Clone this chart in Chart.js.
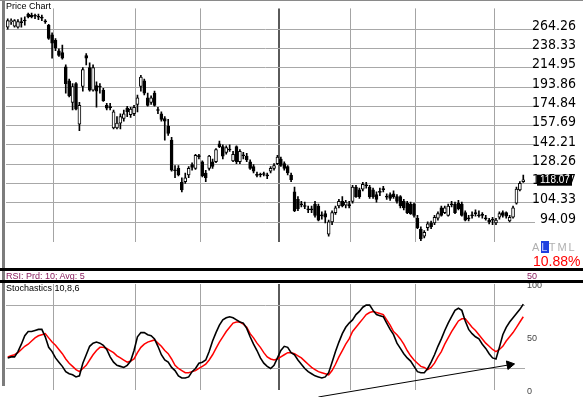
<!DOCTYPE html>
<html>
<head>
<meta charset="utf-8">
<script src="https://cdn.jsdelivr.net/npm/chart.js@4.4.0/dist/chart.umd.min.js"></script>
<style>
  body { margin: 0; width: 583px; height: 397px; overflow: hidden; position: relative; background: #fff; font-family: 'Liberation Sans', Arial, sans-serif; }
  canvas { position: absolute; left: 0; }
  #price { top: 0; }
  #stoch { top: 270px; }
  .txt { position: absolute; white-space: nowrap; z-index: 2; line-height: 1; }
  .bar { position: absolute; z-index: 3; }
</style>
</head>
<body>
<canvas id="price" width="583" height="250"></canvas>
<canvas id="stoch" width="583" height="127"></canvas>

<div class="bar" style="left:2px;top:0;width:3px;height:386px;background:#7c7c7c"></div>
<div class="bar" style="left:0;top:0;width:583px;height:1px;background:#8a8a8a"></div>
<div class="bar" style="left:0;top:268px;width:583px;height:3px;background:#000"></div>
<div class="bar" style="left:0;top:280px;width:583px;height:3px;background:#000"></div>

<div class="txt" style="left:6px;top:2px;font-size:9px;color:#000">Price Chart</div>
<div class="txt" style="left:6px;top:272px;font-size:9px;color:#8a2060">RSI: Prd: 10; Avg: 5</div>
<div class="txt" style="left:527px;top:272px;font-size:9px;color:#8a2060">50</div>
<div class="txt" style="left:6px;top:284px;font-size:9px;color:#000">Stochastics 10,8,6</div>
<div class="txt" style="left:532px;top:242px;font-size:11px;color:#b0b0b0;letter-spacing:2px">A<span style="background:#1f3fe0;color:#c8d0ff">L</span>TML</div>
<div class="txt" style="left:533px;top:254px;font-size:14px;color:#f00">10.88%</div>

<script>
// daily candles
const open = [266.9,275.1,268.3,266.9,273.8,276.5,286.4,285.0,283.5,282.1,
  280.7,275.1,269.7,256.4,248.8,235.4,233.0,216.1,200.4,178.5,
  197.4,159.0,194.4,229.5,215.0,190.5,195.4,194.4,190.5,175.8,
  174.0,155.8,155.8,159.8,163.8,173.2,167.2,168.0,176.7,194.4,
  200.4,183.0,178.5,187.7,171.4,168.0,163.8,157.4,145.9,124.2,
  125.5,116.4,116.9,121.1,128.0,125.5,134.0,130.0,122.4,125.5,
  130.0,130.0,143.0,140.9,136.7,138.8,130.6,140.9,130.0,134.6,
  134.0,130.0,126.7,121.1,121.1,121.7,120.5,123.6,125.5,128.7,
  131.9,128.7,126.7,121.1,110.6,106.3,103.6,102.6,100.5,100.8,
  103.6,102.6,97.6,98.5,88.2,94.2,99.0,102.6,105.2,103.1,
  103.1,105.2,113.5,111.8,112.3,114.6,113.5,111.8,109.0,110.6,
  112.3,107.9,109.0,109.5,107.9,107.9,105.2,104.2,103.6,103.6,
  96.1,90.5,87.3,91.4,93.7,93.7,96.1,101.6,99.0,97.6,
  103.6,103.6,104.2,103.6,99.0,96.1,97.6,98.5,97.6,97.6,
  96.1,95.1,95.1,93.7,96.6,99.0,99.0,94.7,96.6,104.2,
  111.8,116.9];
const high = [279.3,279.3,277.9,277.9,280.7,282.1,287.9,287.9,286.4,286.4,
  285.0,277.9,271.0,259.0,251.3,237.8,242.6,218.3,202.4,197.4,
  198.4,178.5,215.0,231.8,220.5,218.3,199.4,197.4,192.5,177.6,
  177.6,171.4,165.5,168.0,171.4,174.9,174.0,175.8,185.8,206.5,
  202.4,187.7,184.9,189.6,174.0,169.7,165.5,163.0,148.1,127.4,
  127.4,119.3,122.4,126.7,129.3,135.3,135.3,130.6,124.2,134.6,
  131.9,139.5,145.2,142.3,141.6,142.3,137.4,141.6,138.8,136.7,
  136.0,131.3,128.0,123.0,122.4,123.0,122.4,126.7,128.7,134.6,
  133.3,130.0,127.4,122.4,113.5,107.9,105.2,104.7,102.6,102.6,
  105.2,103.6,99.5,100.0,95.1,100.0,102.6,106.3,107.9,105.7,
  105.2,114.6,114.6,112.9,116.4,116.4,114.6,112.9,110.6,112.9,
  114.0,109.5,110.1,111.2,109.0,108.4,106.3,105.2,104.7,104.2,
  97.6,91.8,90.0,94.2,94.7,97.6,99.5,102.6,102.6,103.6,
  105.2,104.7,105.7,104.7,100.0,97.6,99.5,100.5,100.0,99.0,
  97.6,96.1,96.6,96.1,99.5,100.0,99.5,97.6,102.6,113.5,
  116.9,121.1];
const low = [264.3,271.0,266.9,265.6,266.9,269.7,280.7,280.7,279.3,277.9,
  276.5,272.4,250.0,226.1,235.4,228.4,224.9,187.7,183.9,171.4,
  171.4,153.5,189.6,218.3,189.6,189.6,174.0,187.7,179.4,171.4,
  171.4,155.0,155.0,155.0,161.4,165.5,164.7,166.3,169.7,189.6,
  185.8,174.9,176.7,174.9,168.0,161.4,145.9,149.6,123.6,119.3,
  120.5,110.6,115.8,119.3,124.2,124.8,131.9,119.9,116.9,124.2,
  125.5,129.3,140.2,131.9,135.3,137.4,130.0,128.7,128.7,131.9,
  130.0,124.8,122.4,119.9,119.9,120.5,118.7,122.4,124.2,128.0,
  126.7,124.2,121.1,116.9,99.5,100.0,102.1,101.1,99.0,99.0,
  96.6,94.7,95.6,93.7,87.3,92.8,98.1,101.6,102.1,101.6,
  101.6,104.2,107.4,106.8,111.2,112.9,106.8,106.8,104.7,108.4,
  110.6,106.3,105.7,106.8,104.2,101.6,100.5,98.5,98.1,96.6,
  90.9,85.2,86.5,90.0,90.9,92.8,95.1,97.1,98.5,97.1,
  102.1,98.5,100.5,97.1,94.7,94.7,96.1,97.1,96.6,96.1,
  95.1,93.2,92.8,92.8,95.6,96.6,96.1,94.2,96.1,103.6,
  111.2,116.4];
const close = [276.5,276.5,276.5,275.1,273.5,276.0,282.1,282.1,283.0,281.6,
  280.2,274.6,251.3,245.0,239.0,229.5,226.1,197.4,184.9,194.4,
  172.3,175.8,212.8,226.1,190.5,215.0,189.6,193.9,180.3,173.2,
  173.6,169.7,159.8,165.5,168.0,169.7,172.3,174.0,183.0,204.4,
  187.7,175.8,183.0,175.8,171.0,163.0,161.4,151.2,124.2,123.9,
  121.1,111.8,119.3,125.5,126.1,134.6,133.6,120.5,119.3,134.0,
  126.7,138.8,140.9,134.0,140.2,138.4,135.3,130.0,137.4,134.2,
  131.3,125.5,123.6,120.8,121.4,121.4,120.8,125.5,127.4,133.3,
  127.4,125.5,122.4,118.1,100.0,101.1,103.2,102.3,100.8,100.5,
  97.6,95.1,97.3,96.6,94.2,99.0,101.6,105.2,102.6,104.7,
  102.8,113.5,107.9,107.9,115.2,114.3,107.9,107.9,106.3,110.3,
  112.0,107.6,106.8,107.9,105.2,102.6,101.6,99.0,98.5,97.6,
  91.4,86.0,89.1,93.2,91.8,96.6,98.5,97.6,101.6,102.6,
  103.3,99.0,101.1,97.6,95.1,95.8,97.3,98.8,97.3,97.9,
  95.8,94.2,95.4,95.1,98.5,97.6,97.1,96.6,101.6,112.3,
  115.8,118.07];

// stochastics %K (black) and %D (red)
const stochK = [30,31,31,36,43,51,55,55,56,57,57,50,40,36,30,26,22,17,15,14,
  12,13,25,33,41,44,45,44,42,38,31,26,23,22,21,23,27,37,50,54,
  54,52,51,48,41,33,28,26,21,18,13,11,11,12,17,20,25,26,28,36,
  46,54,61,66,68,69,68,66,64,63,58,50,43,37,30,25,22,20,23,30,
  37,41,40,35,33,28,24,20,17,15,13,12,11,12,16,26,36,45,53,59,
  63,66,71,74,78,80,80,75,71,70,69,63,57,52,44,39,34,30,27,22,
  17,16,16,20,26,33,41,48,56,63,69,75,77,75,65,57,53,50,48,43,
  39,34,30,29,40,52,59,64,68,72,76,81];
const stochD = [31,32,33,35,38,41,43,46,49,51,52,53,49,45,42,38,34,29,25,22,
  19,17,20,23,28,33,37,40,40,39,37,35,32,30,28,26,27,29,35,40,
  43,45,46,47,44,41,37,34,29,23,20,18,16,16,17,18,20,22,24,28,
  33,39,45,50,55,59,63,64,64,62,59,53,49,44,40,35,31,29,28,29,
  31,33,35,35,34,32,30,27,24,21,19,17,16,15,14,18,24,31,37,43,
  48,55,59,63,67,71,73,74,73,72,71,66,61,55,52,48,43,37,32,28,
  25,22,21,19,21,25,31,36,43,49,55,60,65,67,67,63,59,56,52,48,
  44,41,38,36,38,41,46,50,54,59,64,69];

const priceTicks = [94.09, 104.33, 115.67, 128.26, 142.21, 157.69, 174.84, 193.86, 214.95, 238.33, 264.26];
const stochTicks = [0, 20, 50, 80, 100];
const stochLabels = [0, 50, 100];
const stochGrid = [20, 80];
const monthStarts = [14, 38, 57, 80, 101, 120, 143];
const yearStart = 80;

const days = open.map((_, i) => String(i + 1));

// hand-drawn trend line under the stochastics lows
const trendLine = [{ x: days[91], y: -7 }, { x: days[147], y: 23.5 }];

const xAxis = () => ({
  offset: true,
  ticks: { display: false, autoSkip: false },
  grid: {
    offset: true,
    drawTicks: false,
    color: c => monthStarts.includes(c.index) ? (c.index === yearStart ? '#5a5a5a' : '#a4a4a4') : 'transparent',
    lineWidth: c => c.index === yearStart ? 2 : 1
  },
  border: { display: false },
  afterFit: s => { s.height = 0; }
});

const bodyColor = i => {
  const o = open[i], c = close[i];
  if (Math.abs(c - o) / o < 0.004) return '#000';
  return c > o ? '#fff' : '#000';
};

// last close tag over the price axis
const lastPriceTag = {
  id: 'lastPriceTag',
  afterDraw(chart) {
    const { ctx, chartArea, scales: { y } } = chart;
    const last = close[close.length - 1];
    const py = y.getPixelForValue(last);
    ctx.save();
    ctx.fillStyle = '#000';
    ctx.fillRect(chartArea.right + 12, py - 5, 35, 11);
    ctx.fillStyle = '#fff';
    ctx.font = "10px 'Liberation Sans', Arial, sans-serif";
    ctx.textBaseline = 'middle';
    ctx.fillText(last.toFixed(2), chartArea.right + 15, py + 0.5);
    ctx.restore();
  }
};

new Chart(document.getElementById('price'), {
  type: 'bar',
  data: {
    labels: days,
    datasets: [{
      label: 'Body',
      data: open.map((o, i) => [o, close[i]]),
      backgroundColor: ctx => bodyColor(ctx.dataIndex),
      borderColor: '#000',
      borderWidth: 1,
      borderSkipped: false,
      barThickness: 3,
      minBarLength: 1,
      grouped: false
    }, {
      label: 'Wick',
      data: low.map((l, i) => [l, high[i]]),
      backgroundColor: '#000',
      barThickness: 1,
      grouped: false
    }]
  },
  options: {
    responsive: false,
    animation: false,
    layout: { padding: { left: 6, right: 7, top: 0, bottom: 2 } },
    plugins: { legend: { display: false }, tooltip: { enabled: false } },
    scales: {
      x: xAxis(),
      y: {
        type: 'logarithmic',
        position: 'right',
        min: 84.8,
        max: 295.2,
        afterBuildTicks: s => { s.ticks = priceTicks.map(v => ({ value: v })); },
        afterFit: s => { s.width = 51; },
        ticks: {
          callback: v => Number(v).toFixed(2),
          color: '#000',
          crossAlign: 'far',
          autoSkip: false,
          padding: 0,
          labelOffset: -3,
          font: { family: "'DejaVu Sans Condensed', 'Liberation Sans', sans-serif", size: 14 }
        },
        grid: { color: '#a8a8a8', lineWidth: 1, tickLength: 10 },
        border: { display: false }
      }
    }
  },
  plugins: [lastPriceTag]
});

new Chart(document.getElementById('stoch'), {
  type: 'line',
  data: {
    labels: days,
    datasets: [{
      label: '%K',
      data: stochK,
      borderColor: '#000',
      borderWidth: 1.6
    }, {
      label: '%D',
      data: stochD,
      borderColor: '#f00',
      borderWidth: 1.5
    }, {
      label: 'Trend',
      data: trendLine,
      borderColor: '#000',
      borderWidth: 1,
      clip: false,
      pointRadius: [0, 5],
      pointStyle: 'triangle',
      rotation: 80,
      pointBackgroundColor: '#000',
      pointBorderColor: '#000'
    }]
  },
  options: {
    responsive: false,
    animation: false,
    elements: { point: { radius: 0 }, line: { tension: 0 } },
    layout: { padding: { left: 6, right: 7, top: 14, bottom: 7 } },
    plugins: { legend: { display: false }, tooltip: { enabled: false } },
    scales: {
      x: xAxis(),
      y: {
        position: 'right',
        min: 0,
        max: 100,
        afterBuildTicks: s => { s.ticks = stochTicks.map(v => ({ value: v })); },
        afterFit: s => { s.width = 51; },
        ticks: {
          callback: v => stochLabels.includes(v) ? String(v) : '',
          color: '#444',
          crossAlign: 'near',
          autoSkip: false,
          padding: 2,
          labelOffset: 2,
          font: { size: 9 }
        },
        grid: {
          drawTicks: false,
          color: c => c.tick && stochGrid.includes(c.tick.value) ? '#a8a8a8' : 'transparent'
        },
        border: { display: false }
      }
    }
  }
});
</script>
</body>
</html>
